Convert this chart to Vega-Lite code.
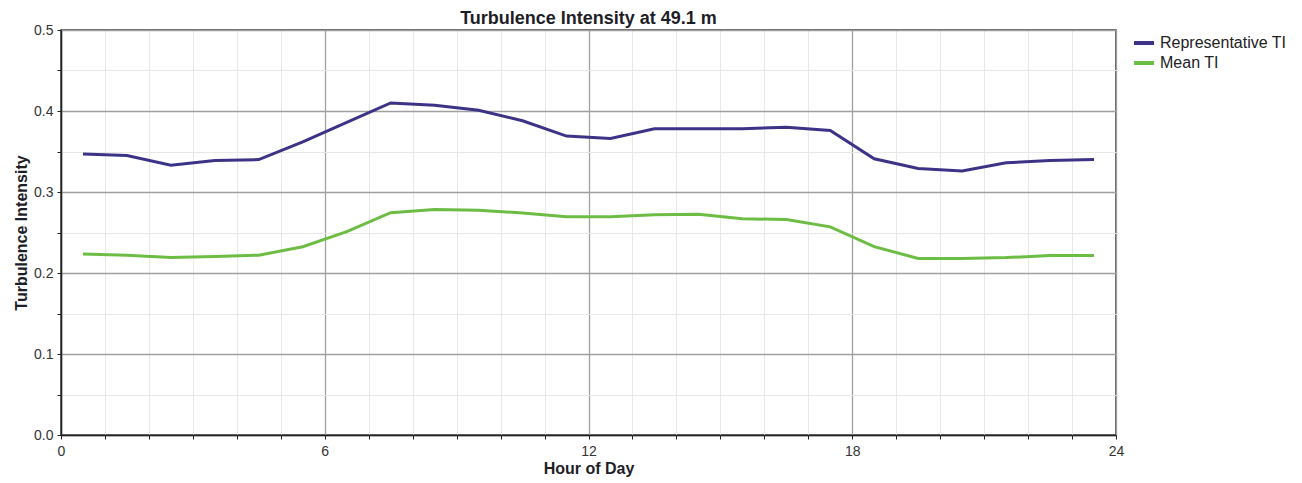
{
  "$schema": "https://vega.github.io/schema/vega-lite/v6.json",
  "autosize": "none",
  "width": 1055,
  "height": 405,
  "padding": {"left": 61, "top": 30, "right": 186, "bottom": 48},
  "background": "white",
  "config": {
    "font": "Liberation Sans",
    "view": {"stroke": "#333333", "strokeWidth": 1.5}
  },
  "title": {
    "text": "Turbulence Intensity at 49.1 m",
    "fontSize": 18,
    "fontWeight": "bold",
    "color": "#1e1e28",
    "anchor": "middle",
    "offset": -5
  },
  "data": {
    "values": [
      {"hour": 0.5, "series": "Representative TI", "ti": 0.347},
      {"hour": 1.5, "series": "Representative TI", "ti": 0.345},
      {"hour": 2.5, "series": "Representative TI", "ti": 0.333},
      {"hour": 3.5, "series": "Representative TI", "ti": 0.339},
      {"hour": 4.5, "series": "Representative TI", "ti": 0.340},
      {"hour": 5.5, "series": "Representative TI", "ti": 0.362},
      {"hour": 6.5, "series": "Representative TI", "ti": 0.386},
      {"hour": 7.5, "series": "Representative TI", "ti": 0.410},
      {"hour": 8.5, "series": "Representative TI", "ti": 0.407},
      {"hour": 9.5, "series": "Representative TI", "ti": 0.401},
      {"hour": 10.5, "series": "Representative TI", "ti": 0.388},
      {"hour": 11.5, "series": "Representative TI", "ti": 0.369},
      {"hour": 12.5, "series": "Representative TI", "ti": 0.366},
      {"hour": 13.5, "series": "Representative TI", "ti": 0.378},
      {"hour": 14.5, "series": "Representative TI", "ti": 0.378},
      {"hour": 15.5, "series": "Representative TI", "ti": 0.378},
      {"hour": 16.5, "series": "Representative TI", "ti": 0.380},
      {"hour": 17.5, "series": "Representative TI", "ti": 0.376},
      {"hour": 18.5, "series": "Representative TI", "ti": 0.341},
      {"hour": 19.5, "series": "Representative TI", "ti": 0.329},
      {"hour": 20.5, "series": "Representative TI", "ti": 0.326},
      {"hour": 21.5, "series": "Representative TI", "ti": 0.336},
      {"hour": 22.5, "series": "Representative TI", "ti": 0.339},
      {"hour": 23.5, "series": "Representative TI", "ti": 0.340},
      {"hour": 0.5, "series": "Mean TI", "ti": 0.2235},
      {"hour": 1.5, "series": "Mean TI", "ti": 0.222},
      {"hour": 2.5, "series": "Mean TI", "ti": 0.219},
      {"hour": 3.5, "series": "Mean TI", "ti": 0.2205},
      {"hour": 4.5, "series": "Mean TI", "ti": 0.222},
      {"hour": 5.5, "series": "Mean TI", "ti": 0.2325},
      {"hour": 6.5, "series": "Mean TI", "ti": 0.251},
      {"hour": 7.5, "series": "Mean TI", "ti": 0.2745},
      {"hour": 8.5, "series": "Mean TI", "ti": 0.2785},
      {"hour": 9.5, "series": "Mean TI", "ti": 0.2775},
      {"hour": 10.5, "series": "Mean TI", "ti": 0.274},
      {"hour": 11.5, "series": "Mean TI", "ti": 0.2693},
      {"hour": 12.5, "series": "Mean TI", "ti": 0.2693},
      {"hour": 13.5, "series": "Mean TI", "ti": 0.272},
      {"hour": 14.5, "series": "Mean TI", "ti": 0.2725},
      {"hour": 15.5, "series": "Mean TI", "ti": 0.267},
      {"hour": 16.5, "series": "Mean TI", "ti": 0.266},
      {"hour": 17.5, "series": "Mean TI", "ti": 0.257},
      {"hour": 18.5, "series": "Mean TI", "ti": 0.2325},
      {"hour": 19.5, "series": "Mean TI", "ti": 0.218},
      {"hour": 20.5, "series": "Mean TI", "ti": 0.218},
      {"hour": 21.5, "series": "Mean TI", "ti": 0.219},
      {"hour": 22.5, "series": "Mean TI", "ti": 0.2215},
      {"hour": 23.5, "series": "Mean TI", "ti": 0.2215}
    ]
  },
  "mark": {"type": "line", "strokeWidth": 3},
  "encoding": {
    "x": {
      "field": "hour",
      "type": "quantitative",
      "scale": {"domain": [0, 24], "nice": false, "zero": false},
      "axis": {
        "title": "Hour of Day",
        "titleFontSize": 16,
        "titleFontWeight": "bold",
        "titleColor": "#1e1e28",
        "titlePadding": 2,
        "values": [0,1,2,3,4,5,6,7,8,9,10,11,12,13,14,15,16,17,18,19,20,21,22,23,24],
        "labelExpr": "datum.value % 6 === 0 ? datum.label : ''",
        "labelFontSize": 14,
        "labelColor": "#333333",
        "labelPadding": 5,
        "labelFlush": false,
        "labelOverlap": false,
        "tickSize": 4,
        "tickColor": "#222222",
        "domainColor": "#222222",
        "domainWidth": 1.5,
        "grid": true,
        "gridColor": {"condition": {"test": "datum.value % 6 === 0", "value": "#a0a0a0"}, "value": "#e8e8e8"},
        "gridWidth": {"condition": {"test": "datum.value % 6 === 0", "value": 1.3}, "value": 1}
      }
    },
    "y": {
      "field": "ti",
      "type": "quantitative",
      "scale": {"domain": [0, 0.5], "nice": false},
      "axis": {
        "title": "Turbulence Intensity",
        "titleFontSize": 16,
        "titleFontWeight": "bold",
        "titleColor": "#1e1e28",
        "titlePadding": 4,
        "values": [0, 0.05, 0.1, 0.15, 0.2, 0.25, 0.3, 0.35, 0.4, 0.45, 0.5],
        "format": ".1f",
        "labelExpr": "round(datum.value * 100) % 10 === 0 ? datum.label : ''",
        "labelFontSize": 14,
        "labelColor": "#333333",
        "labelPadding": 4,
        "labelFlush": false,
        "labelOverlap": false,
        "tickSize": 4,
        "tickColor": "#222222",
        "domainColor": "#222222",
        "domainWidth": 1.5,
        "grid": true,
        "gridColor": {"condition": {"test": "round(datum.value * 100) % 10 === 0", "value": "#a0a0a0"}, "value": "#e8e8e8"},
        "gridWidth": {"condition": {"test": "round(datum.value * 100) % 10 === 0", "value": 1.3}, "value": 1}
      }
    },
    "color": {
      "field": "series",
      "type": "nominal",
      "scale": {"domain": ["Representative TI", "Mean TI"], "range": ["#3c3387", "#6dbd45"]},
      "legend": {
        "title": null,
        "orient": "none",
        "legendX": 1071,
        "legendY": 1,
        "padding": 0,
        "symbolType": "stroke",
        "symbolStrokeWidth": 4,
        "symbolSize": 400,
        "labelFontSize": 16,
        "labelColor": "#222222",
        "labelOffset": 4,
        "rowPadding": -1
      }
    }
  }
}
